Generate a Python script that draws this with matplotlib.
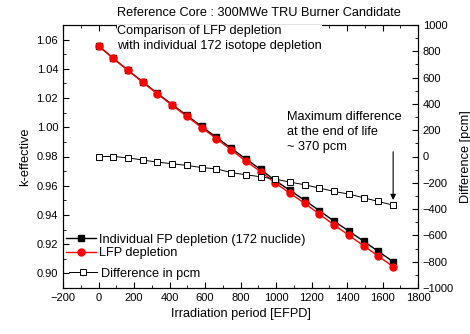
import matplotlib
matplotlib.use("Agg")
import matplotlib.pyplot as plt
from matplotlib.ticker import MultipleLocator, FormatStrFormatter

plt.rcParams['font.family'] = ['Liberation Sans', 'DejaVu Sans']

efpd = [0, 83, 166, 249, 332, 415, 498, 581, 664, 747, 830,
        913, 996, 1079, 1162, 1245, 1328, 1411, 1494, 1577, 1660]
k_individual = [1.0557, 1.0472, 1.0390, 1.0311, 1.0232, 1.0155, 1.0081, 1.0006,
                0.9931, 0.9857, 0.9783, 0.9712, 0.9635, 0.9568, 0.9500, 0.9429,
                0.9357, 0.9289, 0.9220, 0.9150, 0.9080]
k_lfp = [1.0557, 1.0472, 1.0389, 1.0308, 1.0228, 1.0150, 1.0074, 0.9998,
         0.9922, 0.9846, 0.9768, 0.9697, 0.9618, 0.9548, 0.9479, 0.9405,
         0.9331, 0.9260, 0.9189, 0.9117, 0.9046]
diff_pcm = [0, 0, -10, -27, -43, -55, -68, -84, -94, -122, -139,
            -154, -172, -195, -215, -240, -266, -286, -314, -342, -370]

fig = plt.figure(figsize=(4.70, 3.34), dpi=100)
ax = fig.add_axes([63/470, 1-288/334, (418-63)/470, (288-25)/334])
ax2 = ax.twinx()

l1, = ax.plot(efpd, k_individual, color='black', lw=1, marker='s', ms=4,
              label='Individual FP depletion (172 nuclide)')
l2, = ax.plot(efpd, k_lfp, color='red', lw=1, marker='o', ms=5,
              label='LFP depletion')
l3, = ax2.plot(efpd, diff_pcm, color='black', lw=0.7, marker='s', ms=4,
               mfc='white', mew=0.7, label='Difference in pcm')

ax.set_xlim(-200, 1800)
ax.set_ylim(0.89, 1.07)
ax2.set_ylim(-1000, 1000)
ax.xaxis.set_major_locator(MultipleLocator(200))
ax.xaxis.set_minor_locator(MultipleLocator(100))
ax.yaxis.set_major_locator(MultipleLocator(0.02))
ax.yaxis.set_minor_locator(MultipleLocator(0.01))
ax2.yaxis.set_major_locator(MultipleLocator(200))
ax2.yaxis.set_minor_locator(MultipleLocator(100))
ax.yaxis.set_major_formatter(FormatStrFormatter('%.2f'))

ax.tick_params(axis='x', which='both', direction='in', top=True, labelsize=8)
ax.tick_params(axis='y', which='both', direction='in', labelsize=8)
ax2.tick_params(axis='y', which='both', direction='in', labelsize=8)
for a in (ax, ax2):
    a.tick_params(which='major', length=4)
    a.tick_params(which='minor', length=2)

ax.set_xlabel('Irradiation period [EFPD]', fontsize=9.2)
ax.set_ylabel('k-effective', fontsize=9.2)
ax2.set_ylabel('Difference [pcm]', fontsize=9.2)

fig.text(117/470, 1-13/334, 'Reference Core : 300MWe TRU Burner Candidate',
         fontsize=9.2, va='center', ha='left')
ax2.text(117/470, 1-38.5/334, 'Comparison of LFP depletion\nwith individual 172 isotope depletion',
         transform=fig.transFigure, fontsize=9.2, va='center', ha='left',
         linespacing=1.3, zorder=10,
         bbox=dict(facecolor='white', edgecolor='none', pad=0.3))
fig.text(287/470, 1-132/334, 'Maximum difference\nat the end of life\n~ 370 pcm',
         fontsize=9.2, va='center', ha='left', linespacing=1.3)
ax2.annotate('', xy=(efpd[-1], -331), xytext=(efpd[-1], 36),
             arrowprops=dict(arrowstyle='-|>', color='black', lw=0.8,
                             mutation_scale=8, shrinkA=0, shrinkB=0))

leg1 = ax.legend(handles=[l1, l2], loc='center left', frameon=False, fontsize=9.2,
                 handlelength=2.35, handletextpad=0.25, labelspacing=0.13,
                 borderpad=0, borderaxespad=0,
                 bbox_to_anchor=(66/470, 1-246.5/334), bbox_transform=fig.transFigure)
ax2.legend(handles=[l3], loc='center left', frameon=False, fontsize=9.2,
           handlelength=2.2, handletextpad=0.3, borderpad=0, borderaxespad=0,
           bbox_to_anchor=(69/470, 1-273.7/334), bbox_transform=fig.transFigure)

fig.savefig('out.png', dpi=100)
